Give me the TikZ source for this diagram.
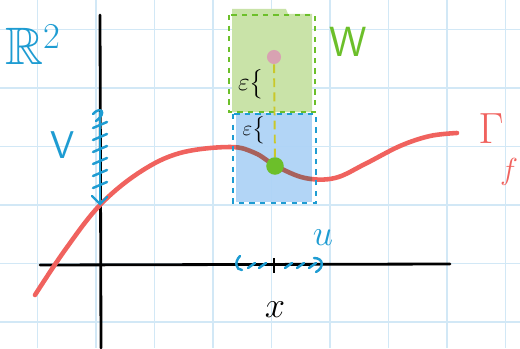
\documentclass[tikz,border=0pt]{standalone}
\usepackage{amsmath}
\usepackage{amssymb}
\usepackage{xcolor}
\usepackage{tikz}
\usetikzlibrary{positioning}
\definecolor{gridblue}{HTML}{D2E8F6}
\definecolor{penblue}{HTML}{1E9CD2}
\definecolor{pengreen}{HTML}{6CBF2A}
\definecolor{wgreen}{HTML}{C9E3A8}
\definecolor{vblue}{HTML}{AED3F6}
\definecolor{penred}{HTML}{F0625E}
\definecolor{penbrown}{HTML}{A8615C}
\definecolor{penpink}{HTML}{D8A2B2}
\definecolor{penyellow}{HTML}{C9C82A}
\tikzset{gridline/.style={draw=gridblue, line width=0.9pt}}
\tikzset{axisline/.style={draw=black, line width=1.6pt, line cap=round}}
\tikzset{bluelabel/.style={text=penblue, font=\fontsize{22}{22}\selectfont\sffamily}}
\tikzset{pointdot/.style={circle, inner sep=0pt, minimum size=#1}}
\def\graphpath{plot[smooth, tension=0.6] coordinates {(35,295) (65,250) (100,205) (140,172) (180,153) (230,147) (255,153) (276,166) (305,178) (335,178) (365,164) (400,146) (430,136) (457,133)}}

\begin{document}
\begin{tikzpicture}[x=0.02cm, y=-0.02cm]
\useasboundingbox (0,0) rectangle (520,348);
% paper grid
\foreach \gx in {37.5,96,154.5,213,271.5,330,388.5,447,505.5}
  \draw[gridline] (\gx,0) -- (\gx,348);
\foreach \gy in {29.5,88,146.5,205,263.5,322}
  \draw[gridline] (0,\gy) -- (520,\gy);
% axes
\coordinate (ytop) at (100,15);
\coordinate (ybot) at (101,348);
\coordinate (xleft) at (40,265);
\coordinate (xright) at (450,264);
\draw[axisline] (ytop) -- (ybot);
\draw[axisline] (xleft) -- (xright);
% the graph
\draw[penred, line width=2.6pt, line cap=round] \graphpath;
% neighbourhood W
\fill[wgreen] (232,9) -- (286,9) -- (288,14) -- (312,14) -- (312,112) -- (232,112) -- cycle;
\draw[pengreen, line width=1.3pt, dashed] (229,15) rectangle (315,112);
% neighbourhood V x U
\fill[vblue, fill opacity=0.95] (236,113) rectangle (312,202);
\begin{scope}
  \clip (236,113) rectangle (312,202);
  \draw[penbrown, line width=2.6pt] \graphpath;
\end{scope}
\draw[penblue, line width=1.3pt, dashed] (233,114) rectangle (316,203);
% points
\node[pointdot=8pt, fill=penpink] (wpt) at (274,57) {};
\node[pointdot=10pt, fill=pengreen] (fx) at (275,166) {};
\draw[penyellow, line width=1.1pt, dash pattern=on 5pt off 3pt] (wpt) -- (fx);
% epsilons
\node[font=\fontsize{14}{14}\selectfont] (eps1) at (251,84) {$\varepsilon\big\{$};
\node[font=\fontsize{13}{13}\selectfont] (eps2) at (254,130) {$\varepsilon\big\{$};
% interval V on the vertical axis
\coordinate (vtop) at (100,112);
\coordinate (vbot) at (100,202);
\draw[penblue, line width=1.2pt] (vtop) -- (vbot);
\foreach \ty in {125,137,149,161,173,185}
  \draw[penblue, line width=1.4pt, line cap=round] (93,\ty+3) -- (107,\ty-3);
\draw[penblue, line width=1.4pt, line cap=round] (93,114) .. controls (100,106) and (108,112) .. (96,121);
\draw[penblue, line width=1.4pt, line cap=round] (92,196) -- (100,204) -- (107,197);
% interval U on the horizontal axis
\coordinate (uleft) at (238,265);
\coordinate (uright) at (321,265);
\draw[penblue, line width=1.4pt, line cap=round] (240,256) .. controls (234,262) and (236,270) .. (242,270);
\foreach \tx in {248,259,285,297,309}
  \draw[penblue, line width=1.4pt, line cap=round] (\tx,268) -- (\tx+7,263);
\draw[penblue, line width=1.4pt, line cap=round] (314,258) .. controls (324,258) and (324,268) .. (316,272);
\draw[black, line width=1.4pt] (274,258) -- (274,273);
% labels
\node[bluelabel, font=\fontsize{30}{30}\selectfont] (rtwo) at (33,45) {$\mathbb{R}^2$};
\node[text=pengreen, font=\fontsize{24}{24}\selectfont\sffamily] (wlab) at (348,42) {W};
\node[bluelabel] (vlab) at (63,145) {V};
\node[bluelabel] (ulab) at (323,238) {$u$};
\node[text=penred, font=\fontsize{26}{26}\selectfont, inner sep=0pt] (gamma) at (491,129) {$\Gamma$};
\node[text=penred, font=\fontsize{19}{19}\selectfont, inner sep=0pt] (gsub) at (509,172) {$f$};
\node[font=\fontsize{20}{20}\selectfont] (xlab) at (275,310) {$x$};
\end{tikzpicture}
\end{document}
